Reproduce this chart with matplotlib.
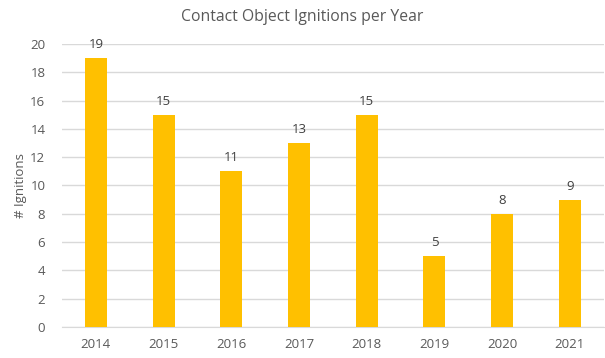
import numpy as np
import matplotlib.pyplot as plt

years = ['2014', '2015', '2016', '2017', '2018', '2019', '2020', '2021']
ignitions = [19, 15, 11, 13, 15, 5, 8, 9]

plt.rcParams['font.family'] = ['Open Sans', 'DejaVu Sans']

fig = plt.figure(figsize=(6.05, 3.58), dpi=100)
ax = fig.add_axes([0.1025, 0.0866, 0.8955, 0.7905])

x = np.arange(len(years))
bars = ax.bar(x, ignitions, width=0.325, color='#FFC000', zorder=3)
for xi, v in zip(x, ignitions):
    ax.text(xi, v + 0.5, str(v), ha='center', va='bottom', fontsize=9.5, color='#404040')

ax.set_xlim(-0.5, len(years) - 0.5)
ax.set_ylim(0, 20)
ax.set_yticks(range(0, 21, 2))
ax.set_xticks(x)
ax.set_xticklabels(years)
ax.grid(axis='y', color='#D9D9D9', linewidth=1, zorder=0)
for s in ['top', 'right', 'left']:
    ax.spines[s].set_visible(False)
ax.spines['bottom'].set_color('#D9D9D9')
ax.tick_params(axis='both', length=0, labelsize=9.5, labelcolor='#595959')
ax.tick_params(axis='x', pad=8)
ax.tick_params(axis='y', pad=12)
ax.set_ylabel('# Ignitions', fontsize=9.5, color='#595959', labelpad=2)
fig.text(0.5, 0.952, 'Contact Object Ignitions per Year', ha='center', va='center',
         fontsize=11.3, color='#595959')

plt.savefig('out.png', dpi=100)
